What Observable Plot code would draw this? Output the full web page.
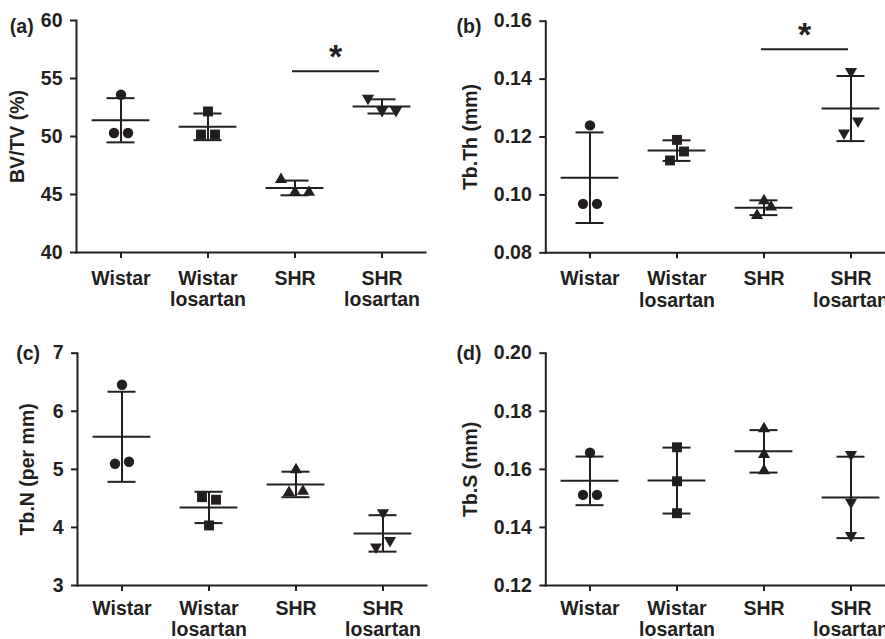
<!DOCTYPE html>
<html>
<head>
<meta charset="utf-8">
<script src="https://cdn.jsdelivr.net/npm/d3@7"></script>
<script src="https://cdn.jsdelivr.net/npm/@observablehq/plot@0.6"></script>
<style>
  html, body { margin: 0; padding: 0; background: #fff; }
  body { width: 885px; height: 639px; overflow: hidden; position: relative; font-family: "Liberation Sans", Arial, sans-serif; }
  .panel { position: absolute; }
  .panel svg { max-width: none !important; }
</style>
</head>
<body>
<div id="pa" class="panel" style="left:0px;top:0px;width:440px"></div>
<div id="pb" class="panel" style="left:440px;top:0px;width:460px"></div>
<div id="pc" class="panel" style="left:0px;top:320px;width:440px"></div>
<div id="pd" class="panel" style="left:440px;top:320px;width:460px"></div>
<script>
// ---------- data ----------
const categories = ["Wistar", "Wistar\nlosartan", "SHR", "SHR\nlosartan"];

// (a) BV/TV (%) — three animals per group
const bvtvValues = [[53.6, 50.3, 50.3], [52.16, 50.17, 50.17], [46.3, 45.2, 45.2], [53.3, 52.24, 52.24]];
const bvtvJitter = [[0, -1, 1], [0, -1, 1], [-2, 0, 2], [-2, 0, 2]];
const bvtvTicks = [40, 45, 50, 55, 60];
const bvtvSig = [55.63];

// (b) Tb.Th (mm)
const tbthValues = [[0.124, 0.0969, 0.0969], [0.119, 0.115, 0.1119], [0.098, 0.0958, 0.0929], [0.1426, 0.1255, 0.1214]];
const tbthJitter = [[0, -1, 1], [0, 1, -1], [0, 1, -1], [0, 1, -1]];
const tbthTicks = [0.08, 0.10, 0.12, 0.14, 0.16];
const tbthSig = [0.1503];

// (c) Tb.N (per mm)
const tbnValues = [[6.456, 5.096, 5.13], [4.522, 4.477, 4.034], [4.993, 4.602, 4.625], [4.253, 3.776, 3.661]];
const tbnJitter = [[0, -1, 1], [-1, 1, 0], [0, -1, 1], [0, 1, -1]];
const tbnTicks = [3, 4, 5, 6, 7];

// (d) Tb.S (mm)
const tbsValues = [[0.1657, 0.1512, 0.1512], [0.1676, 0.1559, 0.1449], [0.174, 0.1651, 0.1595], [0.1651, 0.1487, 0.1372]];
const tbsJitter = [[0, -1, 1], [0, 0, 0], [0, 0, 0], [0, 0, 0]];
const tbsTicks = [0.12, 0.14, 0.16, 0.18, 0.20];

// ---------- drawing ----------
const ink = "#231f20";
const fs = 19.5;
const triangleDown = {
  draw(context, size) {
    const y = Math.sqrt(size / (Math.sqrt(3) * 3));
    context.moveTo(0, y * 2);
    context.lineTo(-Math.sqrt(3) * y, -y);
    context.lineTo(Math.sqrt(3) * y, -y);
    context.closePath();
  }
};
const symbols = ["circle", "square", "triangle", triangleDown];
const radii = [5.2, 5.6, 4.5, 4.5];

function panel(cfg) {
  const rows = [];
  cfg.values.forEach((vals, gi) => vals.forEach((v, k) => rows.push({group: categories[gi], gi, value: v, j: cfg.jitter[gi][k]})));
  const stats = categories.map((g, gi) => {
    const m = d3.mean(cfg.values[gi]), s = d3.deviation(cfg.values[gi]);
    return {group: g, mean: m, lo: m - s, hi: m + s};
  });
  const marks = [
    Plot.axisY({ticks: cfg.ticks, tickFormat: cfg.fmt, tickSize: 6, tickPadding: 8, strokeWidth: 2, stroke: ink, fill: ink, fontSize: fs,
      label: cfg.ylabel, labelAnchor: "center", labelArrow: "none", labelOffset: cfg.labelOffset}),
    Plot.axisX({tickSize: 6, tickPadding: cfg.xPad, strokeWidth: 2, stroke: ink, fill: ink, fontSize: fs, lineHeight: cfg.xLine, label: null}),
    Plot.frame({anchor: "left", stroke: ink, strokeWidth: 2}),
    Plot.frame({anchor: "bottom", stroke: ink, strokeWidth: 2}),
    Plot.ruleX(stats, {x: "group", y1: "lo", y2: "hi", stroke: ink, strokeWidth: 2}),
    Plot.tickY(stats, {x: "group", y: "hi", inset: 29.5, stroke: ink, strokeWidth: 2}),
    Plot.tickY(stats, {x: "group", y: "lo", inset: 29.5, stroke: ink, strokeWidth: 2}),
    Plot.tickY(stats, {x: "group", y: "mean", inset: 14.6, stroke: ink, strokeWidth: 2}),
    Plot.text([cfg.tag], {frameAnchor: "top-left", dx: cfg.tagDx, dy: cfg.tagDy, lineAnchor: "bottom", textAnchor: "start", fill: ink, fontSize: fs, fontWeight: "bold"})
  ];
  categories.forEach((g, gi) => {
    const js = Array.from(new Set(cfg.jitter[gi]));
    js.forEach(j => {
      marks.push(Plot.dot(rows.filter(d => d.gi === gi && d.j === j), {
        x: "group", y: "value", dx: j * 7, symbol: symbols[gi], r: radii[gi], fill: ink, stroke: "none"
      }));
    });
  });
  if (cfg.sig) {
    marks.push(Plot.link(cfg.sig, {x1: () => categories[2], x2: () => categories[3], y1: d => d, y2: d => d, dx: -3, stroke: ink, strokeWidth: 2}));
    marks.push(Plot.text(cfg.sig, {x: () => categories[2], y: d => d, text: () => "*", dx: 40.5, dy: -3, lineAnchor: "bottom", fill: ink, fontSize: 34, fontWeight: "bold"}));
  }
  const plot = Plot.plot({
    width: cfg.width, height: cfg.height,
    marginLeft: cfg.marginLeft, marginRight: cfg.marginRight, marginTop: cfg.marginTop, marginBottom: cfg.marginBottom,
    style: {font: `bold ${fs}px 'Liberation Sans', Arial, sans-serif`, color: ink, background: "transparent", overflow: "visible", maxWidth: "none"},
    x: {type: "band", domain: categories, padding: 0, axis: null},
    y: {domain: cfg.domain, axis: null},
    marks
  });
  document.getElementById(cfg.id).appendChild(plot);
}

const f2 = d3.format(".2f");
panel({id: "pa", tag: "(a)", ylabel: "BV/TV (%)", values: bvtvValues, jitter: bvtvJitter, ticks: bvtvTicks, fmt: d => d, domain: [40, 60], sig: bvtvSig,
  width: 440, height: 320, marginLeft: 76, marginRight: 15, marginTop: 20, marginBottom: 68, labelOffset: 66, tagDx: -66.7, tagDy: 12.5, xPad: 10.5, xLine: 1.12});
panel({id: "pb", tag: "(b)", ylabel: "Tb.Th (mm)", values: tbthValues, jitter: tbthJitter, ticks: tbthTicks, fmt: f2, domain: [0.08, 0.16], sig: tbthSig,
  width: 460, height: 320, marginLeft: 105.3, marginRight: 5.7, marginTop: 20.7, marginBottom: 67.7, labelOffset: 82.3, tagDx: -89.3, tagDy: 11.8, xPad: 10.5, xLine: 1.12});
panel({id: "pc", tag: "(c)", ylabel: "Tb.N (per mm)", values: tbnValues, jitter: tbnJitter, ticks: tbnTicks, fmt: d => d, domain: [3, 7], sig: null,
  width: 440, height: 319, marginLeft: 77, marginRight: 14, marginTop: 32.7, marginBottom: 54, labelOffset: 57.5, tagDx: -61.3, tagDy: 6.8, xPad: 8.5, xLine: 1.08});
panel({id: "pd", tag: "(d)", ylabel: "Tb.S (mm)", values: tbsValues, jitter: tbsJitter, ticks: tbsTicks, fmt: f2, domain: [0.12, 0.20], sig: null,
  width: 460, height: 319, marginLeft: 105.3, marginRight: 5.7, marginTop: 32.7, marginBottom: 54, labelOffset: 82.3, tagDx: -89.3, tagDy: 6.3, xPad: 8.5, xLine: 1.08});
</script>
</body>
</html>
